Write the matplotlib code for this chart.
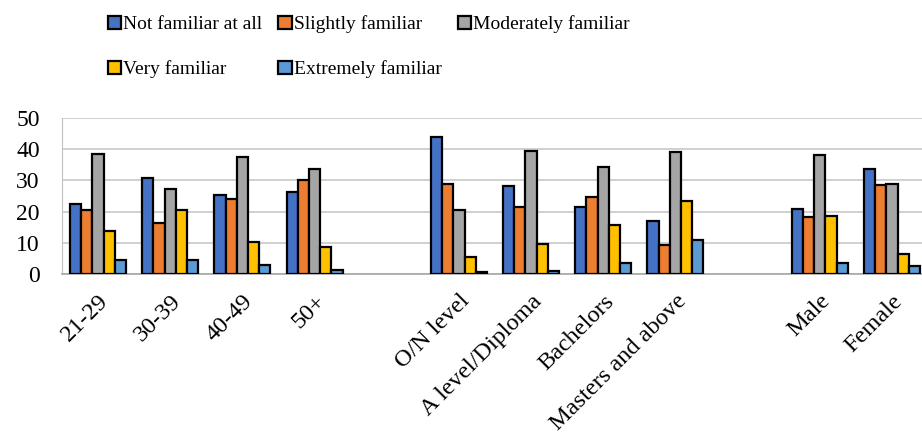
import matplotlib
matplotlib.use("Agg")
import matplotlib.pyplot as plt
import numpy as np

plt.rcParams['font.family'] = ['Liberation Serif', 'DejaVu Serif']

# categories ("" = empty slot used as a gap between groups)
categories = ["21-29", "30-39", "40-49", "50+", "",
              "O/N level", "A level/Diploma", "Bachelors", "Masters and above", "",
              "Male", "Female"]
series_names = ["Not familiar at all", "Slightly familiar", "Moderately familiar",
                "Very familiar", "Extremely familiar"]
not_familiar = [22.4, 30.9, 25.3, 26.4, np.nan, 43.9, 28.3, 21.6, 17.1, np.nan, 20.8, 33.5]
slightly = [20.6, 16.5, 24.1, 30.0, np.nan, 28.9, 21.6, 24.6, 9.4, np.nan, 18.4, 28.5]
moderately = [38.4, 27.4, 37.4, 33.6, np.nan, 20.6, 39.4, 34.3, 39.1, np.nan, 38.0, 28.7]
very = [13.9, 20.6, 10.2, 8.7, np.nan, 5.6, 9.5, 15.6, 23.3, np.nan, 18.7, 6.3]
extremely = [4.5, 4.6, 3.0, 1.3, np.nan, 0.75, 0.9, 3.4, 10.8, np.nan, 3.6, 2.6]
colors = ["#4472C4", "#ED7D31", "#A5A5A5", "#FFC000", "#5B9BD5"]

values = [not_familiar, slightly, moderately, very, extremely]

fig = plt.figure(figsize=(9.22, 4.37), dpi=100)
ax = fig.add_axes([62 / 922, 163 / 437, 866 / 922, 156 / 437])

x = np.arange(len(categories))
w = 0.155
bars = []
for i, (name, vals) in enumerate(zip(series_names, values)):
    b = ax.bar(x + (i - 2) * w, vals, w, color=colors[i], edgecolor="black",
               linewidth=1.6, label=name, zorder=3)
    bars.append(b)

ax.set_xlim(-0.5, len(categories) - 0.5)
ax.set_ylim(0, 50)
ax.set_yticks([0, 10, 20, 30, 40, 50])
ax.yaxis.grid(True, color="#C8C8C8", linewidth=1.2, zorder=0)
ax.tick_params(axis="y", length=0, labelsize=17, pad=16)
ax.tick_params(axis="x", length=0, labelsize=17.5, pad=12)
ax.set_xticks(x)
ax.set_xticklabels(categories, rotation=45, ha="right", va="top", rotation_mode="anchor")
for s in ["top", "right"]:
    ax.spines[s].set_visible(False)
ax.spines["left"].set_color("#BFBFBF")
ax.spines["bottom"].set_color("#A6A6A6")
ax.spines["bottom"].set_linewidth(1.2)

# legend filled row by row: row 1 = first three series, row 2 = last two
order = [0, 3, 1, 4, 2]
fig.legend(handles=[bars[k] for k in order], loc="upper left",
           bbox_to_anchor=(90 / 922, 1.005),
           ncol=3, frameon=False, fontsize=14, handlelength=0.7, handleheight=0.7,
           handletextpad=0.12, columnspacing=0.8, labelspacing=1.4)

fig.savefig("out.png", dpi=100)
